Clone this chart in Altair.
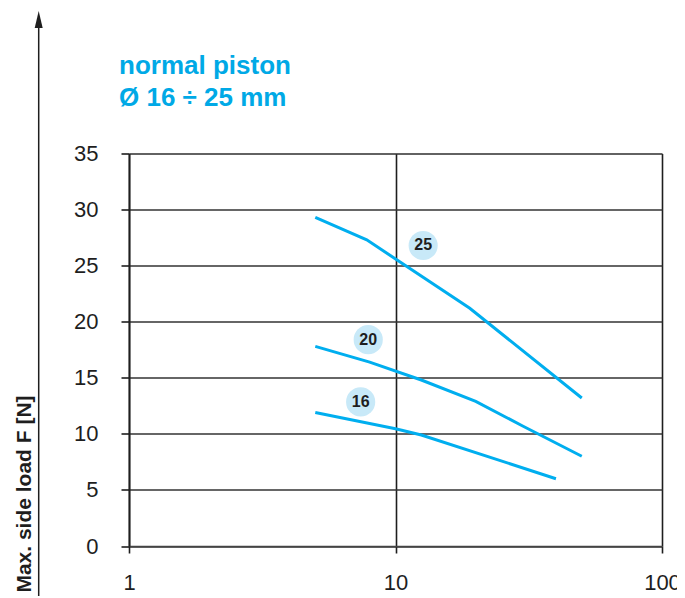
import altair as alt
import pandas as pd

# ---- data ----
x25 = [5, 7.8, 19, 50]
y25 = [29.3, 27.3, 21.2, 13.2]
x20 = [5, 8, 12.5, 20, 30, 50]
y20 = [17.8, 16.4, 14.8, 12.9, 10.7, 8.0]
x16 = [5, 10, 12.5, 40]
y16 = [11.9, 10.45, 9.9, 6.0]

label_text = ["25", "20", "16"]
label_x = [12.7, 7.9, 7.4]
label_y = [26.8, 18.4, 12.85]

y_ticks = [0, 5, 10, 15, 20, 25, 30, 35]
x_ticks = [1, 10, 100]

title_lines = ["normal piston", "Ø 16 ÷ 25 mm"]

CYAN = "#00aeef"
TITLE_BLUE = "#00a9e6"
BUBBLE = "#c8e9f8"
INK = "#1e1e1e"
FONT = "Liberation Sans"

rows = []
for name, xs, ys in (("25", x25, y25), ("20", x20, y20), ("16", x16, y16)):
    for xv, yv in zip(xs, ys):
        rows.append({"series": name, "x": xv, "y": yv})
df = pd.DataFrame(rows)
labels = pd.DataFrame({"x": label_x, "y": label_y, "t": label_text})

xenc = alt.X(
    "x:Q",
    scale=alt.Scale(type="log", domain=[1, 100]),
    axis=alt.Axis(
        values=x_ticks, format="d", title=None, grid=True, gridColor=INK, gridWidth=1.6,
        gridOpacity=1, domainColor="#444", domainWidth=1.6, tickColor=INK, tickWidth=1.6,
        tickSize=7, labelPadding=19, labelFontSize=22, labelColor=INK, labelFont=FONT,
        labelFlush=False, labelOverlap=False,
    ),
)
yenc = alt.Y(
    "y:Q",
    scale=alt.Scale(domain=[0, 35]),
    axis=alt.Axis(
        values=y_ticks, title="Max. side load F [N]", grid=True, gridColor="#333",
        gridWidth=1.6, gridOpacity=1, domainColor=INK, domainWidth=1.8, tickColor=INK,
        tickWidth=1.6, tickSize=8, labelPadding=23, labelFontSize=22, labelColor=INK,
        labelFont=FONT, titleFont=FONT, titleFontSize=21, titleFontWeight="bold",
        titleColor=INK, titleAngle=270, titleX=-105, titleY=340, titleAlign="center",
        titleBaseline="middle",
    ),
)

lines = alt.Chart(df).mark_line(color=CYAN, strokeWidth=3).encode(
    x=xenc, y=yenc, detail="series:N"
)
bubbles = alt.Chart(labels).mark_circle(size=850, color=BUBBLE, opacity=1).encode(
    x="x:Q", y="y:Q"
)
texts = alt.Chart(labels).mark_text(
    font=FONT, fontSize=16, fontWeight="bold", color=INK, align="center", baseline="middle"
).encode(x="x:Q", y="y:Q", text="t:N")

one = pd.DataFrame({"a": [0]})
arrow_line = alt.Chart(one).mark_rule(color=INK, strokeWidth=1.5).encode(
    x=alt.value(-90.3), y=alt.value(-126), y2=alt.value(450)
)
arrow_head = alt.Chart(one).mark_point(
    shape="M0,-1L0.47,1L-0.47,1Z", filled=True, size=289, color=INK, opacity=1
).encode(x=alt.value(-90.3), y=alt.value(-134))

title1 = alt.Chart(one).mark_text(
    text=title_lines[0], font=FONT, fontSize=26, fontWeight="bold", color=TITLE_BLUE,
    align="left", baseline="alphabetic",
).encode(x=alt.value(-10), y=alt.value(-80))
title2 = alt.Chart(one).mark_text(
    text=title_lines[1], font=FONT, fontSize=26, fontWeight="bold", color=TITLE_BLUE,
    align="left", baseline="alphabetic",
).encode(x=alt.value(-10), y=alt.value(-47.5))

chart = (
    alt.layer(lines, bubbles, texts, arrow_line, arrow_head, title1, title2)
    .properties(
        width=533,
        height=392.5,
        autosize=alt.AutoSizeParams(type="none"),
        padding={"left": 121, "top": 145.5, "right": 15, "bottom": 50},
    )
    .configure_view(stroke=None)
    .configure(background="white")
)

chart.save("out.html", embed_options={"renderer": "svg", "actions": False})
